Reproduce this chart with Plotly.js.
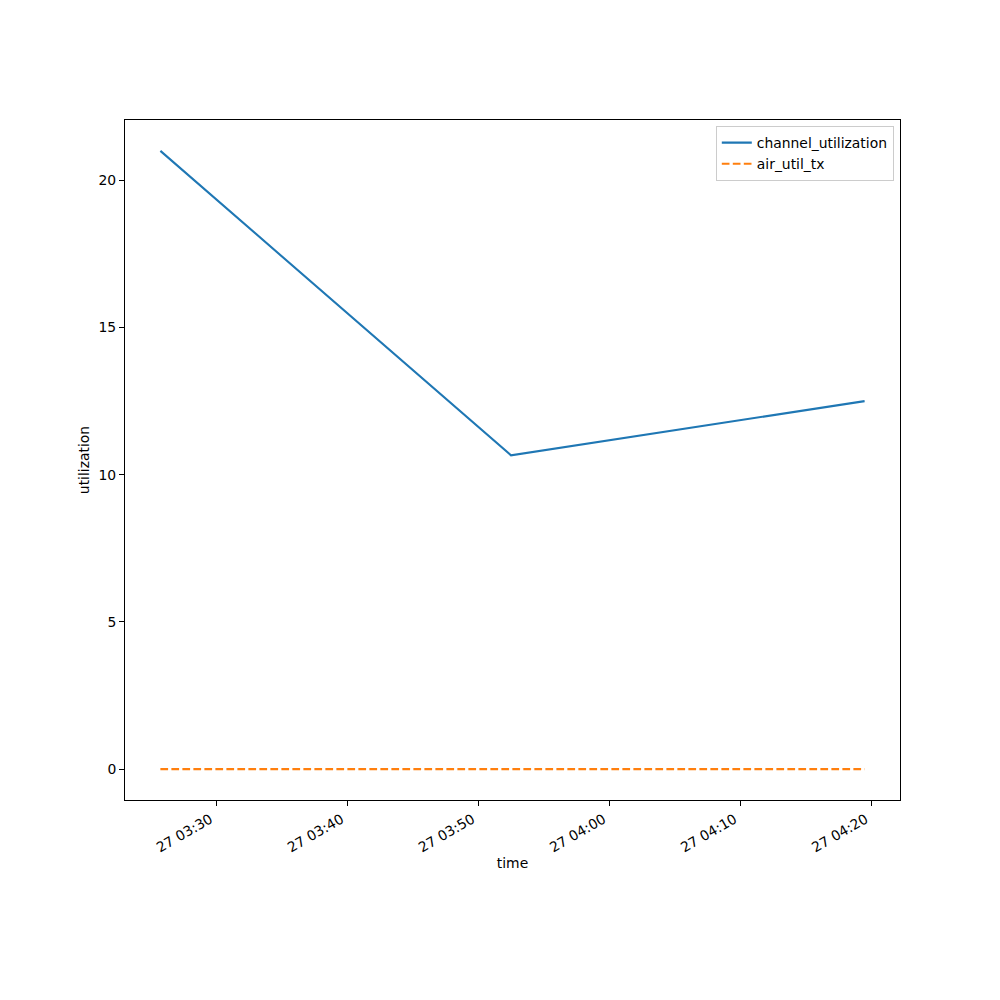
<!DOCTYPE html>
<html>
<head>
<meta charset="utf-8">
<script src="https://cdn.plot.ly/plotly-3.0.1.min.js"></script>
<style>html,body{margin:0;padding:0;background:#fff;}</style>
</head>
<body>
<div id="chart" style="width:1000px;height:1000px;"></div>
<script>
const times = ["2024-01-27 03:25:44", "2024-01-27 03:52:29", "2024-01-27 04:19:28"];
const channelUtilization = [21.0, 10.66, 12.5];
const airUtilTx = [0.0, 0.0, 0.0];
const xTickVals = ["2024-01-27 03:30", "2024-01-27 03:40", "2024-01-27 03:50", "2024-01-27 04:00", "2024-01-27 04:10", "2024-01-27 04:20"];
const xTickText = ["27 03:30", "27 03:40", "27 03:50", "27 04:00", "27 04:10", "27 04:20"];
const yTickVals = [0, 5, 10, 15, 20];

const font = {family: "DejaVu Sans", size: 13.9, color: "#000"};

const traces = [
  {x: times, y: channelUtilization, name: "channel_utilization", mode: "lines",
   line: {color: "#1f77b4", width: 2.08}},
  {x: times, y: airUtilTx, name: "air_util_tx", mode: "lines",
   line: {color: "#ff7f0e", width: 2.08, dash: "7.7px,3.3px"}}
];

const layout = {
  width: 1000, height: 1000,
  margin: {l: 125, r: 100, t: 120, b: 200},
  paper_bgcolor: "#fff", plot_bgcolor: "#fff",
  font: font,
  showlegend: true,
  legend: {x: 0.992, xanchor: "right", y: 0.991, yanchor: "top",
           bordercolor: "#cccccc", borderwidth: 1, bgcolor: "rgba(255,255,255,0.8)",
           font: font, tracegroupgap: 0},
  xaxis: {
    type: "date",
    range: ["2024-01-27 03:23:02", "2024-01-27 04:22:10"],
    tickvals: xTickVals, ticktext: xTickText, tickangle: -30,
    ticklabelshift: -6,
    ticks: "outside", ticklen: 5, tickwidth: 1, tickcolor: "#000",
    showline: true, linecolor: "#000", linewidth: 1, mirror: true,
    showgrid: false, zeroline: false,
    title: {text: "time", font: font, standoff: 3},
    tickfont: font
  },
  yaxis: {
    range: [-1.05, 22.05],
    tickvals: yTickVals,
    ticks: "outside", ticklen: 5, tickwidth: 1, tickcolor: "#000",
    showline: true, linecolor: "#000", linewidth: 1, mirror: true,
    showgrid: false, zeroline: false,
    title: {text: "utilization", font: font, standoff: 5},
    tickfont: font
  }
};

Plotly.newPlot("chart", traces, layout, {displayModeBar: false, staticPlot: true});
</script>
</body>
</html>
